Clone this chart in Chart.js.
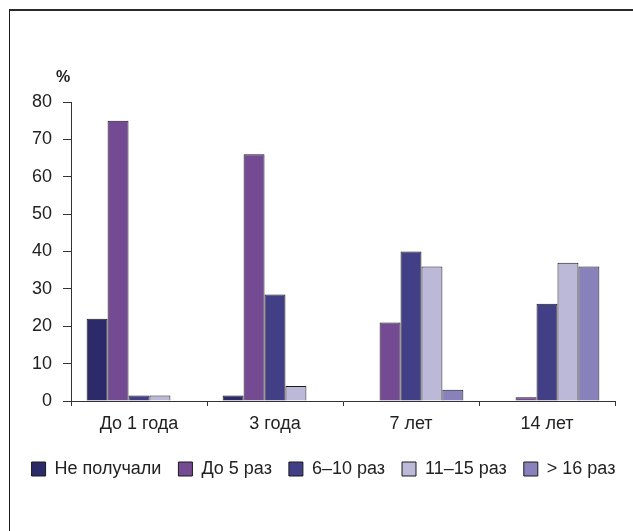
<!DOCTYPE html>
<html>
<head>
<meta charset="utf-8">
<script src="https://cdn.jsdelivr.net/npm/chart.js@4/dist/chart.umd.min.js"></script>
<style>
  html, body { margin: 0; padding: 0; background: #fff; overflow: hidden; width: 633px; height: 531px; }
  #frame { position: absolute; left: 9px; top: 9px; width: 700px; height: 600px;
           border-top: 2px solid #2a2a2a; border-left: 1px solid #1a1a1a; }
  #chart { position: absolute; left: 0; top: 0; }
</style>
</head>
<body>
<div id="frame"></div>
<canvas id="chart" width="660" height="531"></canvas>
<script>
// Возраст детей (группы)
const categories = ['До 1 года', '3 года', '7 лет', '14 лет'];

// Доля детей, %, по числу полученных курсов
const nePoluchali = [22, 1.5, 0, 0];
const do5raz      = [75, 66, 21, 1];
const raz6_10     = [1.5, 28.5, 40, 26];
const raz11_15    = [1.5, 4, 36, 37];
const raz16plus   = [0, 0, 3, 36];

const seriesNames = ['Не получали', 'До 5 раз', '6–10 раз', '11–15 раз', '> 16 раз'];
const yTicks = [0, 10, 20, 30, 40, 50, 60, 70, 80];

const colors = ['#2d2a69', '#744a92', '#423f87', '#bbb8d8', '#8782bc'];
const seriesData = [nePoluchali, do5raz, raz6_10, raz11_15, raz16plus];

const FONT = '"Liberation Sans", Arial, Helvetica, sans-serif';
const ink = '#222';

// подпись единиц над осью Y
const unitLabel = {
  id: 'unitLabel',
  afterDraw(chart) {
    const { ctx, chartArea } = chart;
    ctx.save();
    ctx.font = 'bold 16px ' + FONT;
    ctx.fillStyle = ink;
    ctx.textAlign = 'center';
    ctx.textBaseline = 'middle';
    ctx.fillText('%', chartArea.left - 8, chartArea.top - 24);
    ctx.restore();
  }
};

new Chart(document.getElementById('chart'), {
  type: 'bar',
  data: {
    labels: categories,
    datasets: seriesData.map((d, i) => ({
      label: seriesNames[i],
      data: d,
      backgroundColor: colors[i],
      borderColor: '#1a1a1a',
      borderWidth: 1,
      categoryPercentage: 0.77,
      barPercentage: 1.0
    }))
  },
  options: {
    responsive: false,
    animation: false,
    layout: { padding: { top: 102, left: 0, right: 13, bottom: 43 } },
    plugins: {
      tooltip: { enabled: false },
      legend: {
        position: 'bottom',
        labels: {
          boxWidth: 14,
          boxHeight: 14,
          padding: 17,
          color: ink,
          font: { family: FONT, size: 18 }
        }
      }
    },
    scales: {
      x: {
        grid: { offset: true, drawOnChartArea: false, drawTicks: true, tickLength: 5, color: '#333' },
        border: { display: true, color: '#333', width: 1 },
        ticks: { color: ink, padding: 7, font: { family: FONT, size: 18 } },
        afterFit(s) { s.height = 42; }
      },
      y: {
        min: 0,
        max: 80,
        afterBuildTicks(s) { s.ticks = yTicks.map(v => ({ value: v })); },
        grid: { drawOnChartArea: false, drawTicks: true, tickLength: 8, color: '#333' },
        border: { display: true, color: '#333', width: 1 },
        ticks: { color: ink, padding: 11, font: { family: FONT, size: 18 } },
        afterFit(s) { s.width = 71; }
      },
      pad: {
        type: 'linear',
        position: 'right',
        display: true,
        grid: { display: false },
        border: { display: false },
        ticks: { display: false },
        afterFit(s) { s.width = 32; }
      }
    }
  },
  plugins: [unitLabel]
});
</script>
</body>
</html>
